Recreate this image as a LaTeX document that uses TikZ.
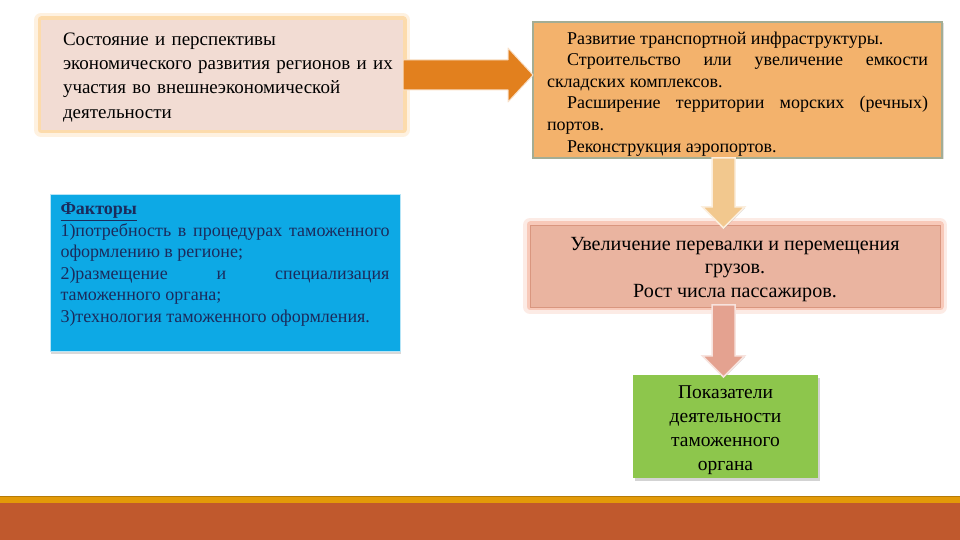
\documentclass[tikz,border=0pt]{standalone}
\usepackage{fontspec}
\setmainfont{Liberation Serif}
\usetikzlibrary{positioning, calc, shadows}
\definecolor{statefill}{HTML}{F2DCD3}
\definecolor{stateglow}{HTML}{FBC882}
\definecolor{infrafill}{HTML}{F3B26C}
\definecolor{infraline}{HTML}{A3AD94}
\definecolor{cargofill}{HTML}{EAB4A0}
\definecolor{cargoline}{HTML}{D9967F}
\definecolor{cargoglow}{HTML}{F4AE96}
\definecolor{indicfill}{HTML}{8DC64C}
\definecolor{factorfill}{HTML}{0DA9E5}
\definecolor{factortext}{HTML}{1B2B5C}
\definecolor{arroworange}{HTML}{E2801E}
\definecolor{arrowtan}{HTML}{F2C88E}
\definecolor{arrowpink}{HTML}{E4A290}
\definecolor{bandrust}{HTML}{C0592D}
\definecolor{bandgold}{HTML}{E39A08}
\tikzset{
	glow/.style={
		preaction={draw=#1, line width=14pt, draw opacity=.25, line join=round},
		preaction={draw=#1, line width=7pt, draw opacity=.55, line join=round},
	},
	box/.style={rectangle, inner sep=0pt, outer sep=0pt},
	loose/.style={execute at begin node={\tolerance=9999 \hbadness=10000 }},
	statebox/.style={box, fill=statefill, glow=stateglow, minimum width=362pt, minimum height=110pt,
		text width=354pt, align=left, font=\fontsize{19}{24.3}\selectfont},
	infrabox/.style={box, loose, fill=infrafill, draw=infraline, line width=1.2pt, minimum width=409pt, minimum height=136pt,
		text width=381pt, align=justify, font=\fontsize{18}{21.6}\selectfont,
		drop shadow={shadow xshift=1.5pt, shadow yshift=-1.5pt, opacity=.25}},
	cargobox/.style={box, fill=cargofill, draw=cargoline, line width=.8pt, glow=cargoglow, minimum width=410pt, minimum height=82pt,
		align=center, font=\fontsize{20.1}{23.5}\selectfont},
	indicbox/.style={box, fill=indicfill, minimum width=185pt, minimum height=103pt,
		align=center, font=\fontsize{19.5}{24}\selectfont,
		drop shadow={shadow xshift=2pt, shadow yshift=-3pt, opacity=.35}},
	factorbox/.style={box, loose, fill=factorfill, draw=white!70!factorfill, line width=1pt, minimum width=350pt, minimum height=157pt,
		text width=329pt, align=justify, text=factortext, font=\fontsize{18}{21.5}\selectfont,
		drop shadow={shadow xshift=1pt, shadow yshift=-2pt, opacity=.3}},
	rightarrow/.style={fill=arroworange, draw=white!75!arroworange, line width=1pt, line join=round},
	downarrow/.style={fill=#1, draw=white!70!#1, line width=1.5pt,
		drop shadow={shadow xshift=.8pt, shadow yshift=-.8pt, opacity=.3}},
}

\begin{document}
\begin{tikzpicture}[x=1pt, y=1pt]
	\useasboundingbox (0,0) rectangle (960,540);
	\fill[bandrust] (0,0) rectangle (960,37);
	\fill[bandgold] (0,37) rectangle (960,43);
	\draw[bandgold!80!black, line width=.8pt] (0,43.4) -- (960,43.4);

	\node[statebox] (state) at (222,465) {\leftskip=18pt \rule{0pt}{17pt}Состояние и перспективы\\экономического развития регионов и их\\участия во внешнеэкономической\\деятельности\par};
	\node[factorbox, below=65pt of state, xshift=3pt] (factors) {\underline{\textbf{Факторы}}\par
		1)потребность в процедурах таможенного\linebreak оформлению в регионе;\par
		2)размещение и специализация\linebreak таможенного органа;\par
		3)технология таможенного оформления.\par\mbox{}};
	\node[infrabox] (infra) at (737.5,450) {\hspace*{20pt}\rule{0pt}{20pt}Развитие транспортной инфраструктуры.\par
		\hspace*{20pt}Строительство или увеличение емкости\linebreak складских комплексов.\par
		\hspace*{20pt}Расширение территории морских (речных)\linebreak портов.\par
		\hspace*{20pt}Реконструкция аэропортов.};
	\node[cargobox, below=67pt of infra, xshift=-2.5pt] (cargo) {\rule{0pt}{19.5pt}Увеличение перевалки и перемещения\\грузов.\\Рост числа пассажиров.};
	\node[indicbox, below=68pt of cargo, xshift=-9.5pt] (indic) {\rule{0pt}{21pt}Показатели\\деятельности\\таможенного\\органа};

	\coordinate (r0) at (state.east);
	\coordinate (r1) at (state.east -| infra.west);
	\filldraw[rightarrow] ($(r0)+(0,15)$) -- ($(r1)+(-25,15)$) -- ($(r1)+(-25,27)$) -- (r1)
		-- ($(r1)+(-25,-27)$) -- ($(r1)+(-25,-15)$) -- ($(r0)+(0,-15)$) -- cycle;

	\coordinate (d0) at ($(indic.north |- infra.south)+(-2,0)$);
	\coordinate (d1) at ($(indic.north |- cargo.north)+(-2,-3)$);
	\filldraw[downarrow=arrowtan] ($(d0)+(-11.5,0)$) -- ($(d0)+(11.5,0)$) -- ($(d1)+(11.5,21)$) -- ($(d1)+(21,21)$) -- (d1)
		-- ($(d1)+(-21,21)$) -- ($(d1)+(-11.5,21)$) -- cycle;

	\coordinate (e0) at ($(indic.north |- cargo.south)+(-2,2)$);
	\coordinate (e1) at ($(indic.north)+(-2,-2)$);
	\filldraw[downarrow=arrowpink] ($(e0)+(-11.5,0)$) -- ($(e0)+(11.5,0)$) -- ($(e1)+(11.5,21)$) -- ($(e1)+(21,21)$) -- (e1)
		-- ($(e1)+(-21,21)$) -- ($(e1)+(-11.5,21)$) -- cycle;
\end{tikzpicture}
\end{document}
